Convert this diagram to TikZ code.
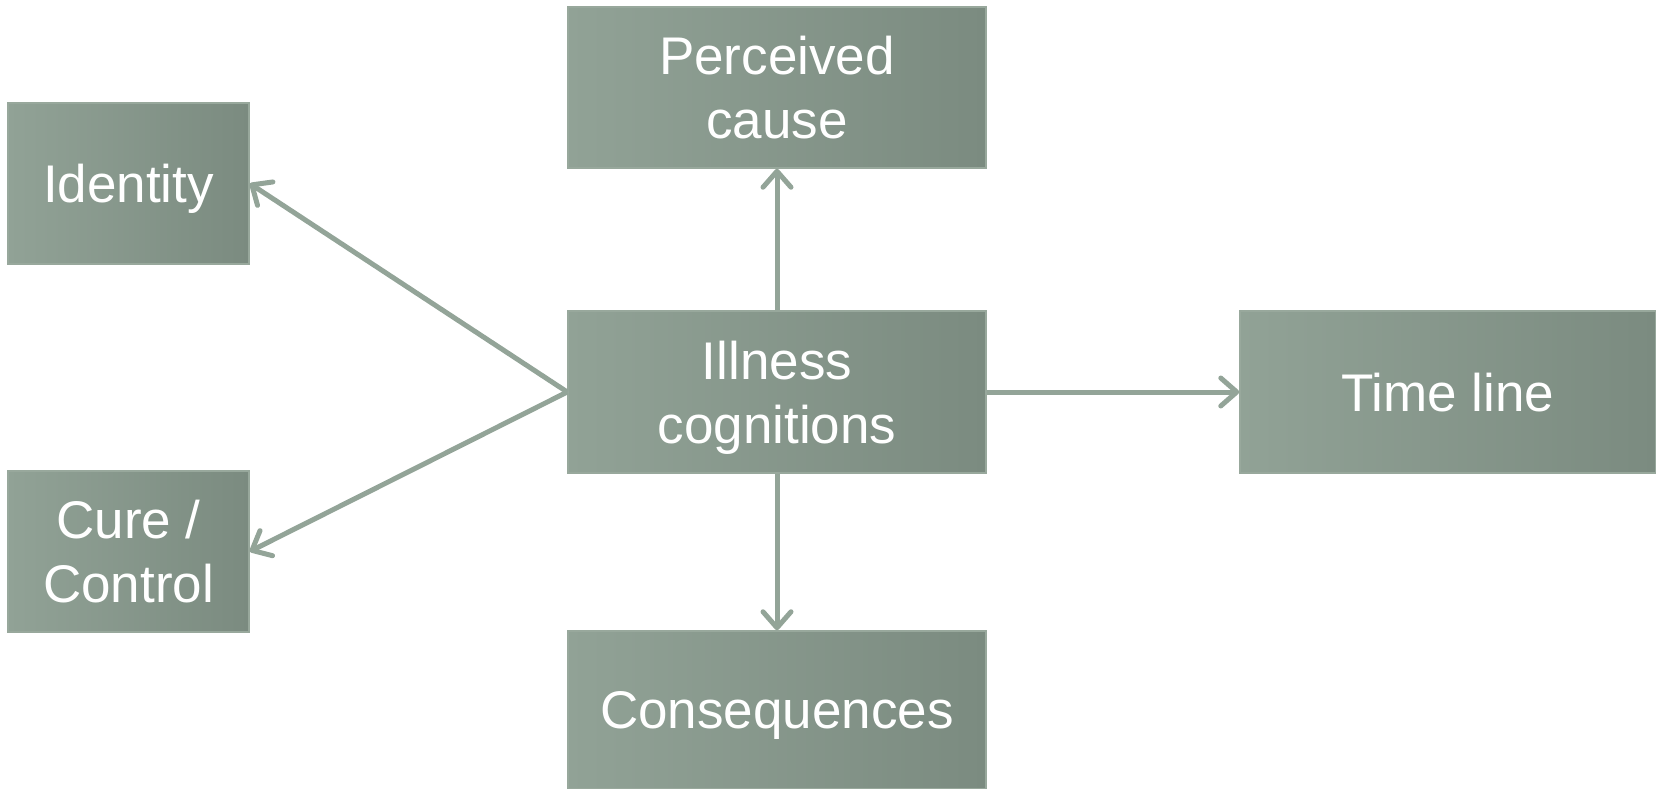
\documentclass[tikz,border=0pt]{standalone}
\usepackage{fontspec}
\setmainfont{Liberation Sans}
\usetikzlibrary{calc,arrows.meta}

\definecolor{boxlight}{HTML}{91A296}
\definecolor{boxdark}{HTML}{7B8B80}
\definecolor{boxedge}{HTML}{98A89C}
\definecolor{arrowgray}{HTML}{93A498}

\tikzset{
  box/.style={rectangle, left color=boxlight, right color=boxdark, draw=boxedge,
    line width=1.5pt, minimum height=161pt, text=white, align=center,
    font=\fontsize{53}{64}\selectfont, inner sep=0pt, text depth=-6pt},
  conn/.style={draw=arrowgray, line width=5pt,
    -{Straight Barb[length=16pt,width=28pt,line cap=round,line join=round]}}
}

\begin{document}
\begin{tikzpicture}[x=1pt,y=-1pt]
  \useasboundingbox (0,0) rectangle (1656,789);

  %% The six boxes of the model
  \foreach \name/\x/\y/\w/\h/\txt in {
    cause/777/87.5/418/161/{Perceived\\cause},
    ident/128.5/183.5/241/161/{Identity},
    ill/777/392/418/162/{Illness\\cognitions},
    time/1448/392/416/162/{Time line},
    cure/128.5/551.5/241/161/{Cure /\\Control},
    cons/777/710/418/158/{Consequences}}
  {
    \node[box, minimum width=\w pt, minimum height=\h pt] (\name) at (\x,\y) {\txt};
  }

  %% Arrows out of the centre box
  \foreach \a/\b in {ill.north/cause.south, ill.west/ident.east, ill.west/cure.east,
    ill.east/time.west, ill.south/cons.north}
  {
    \draw[conn] (\a) -- (\b);
  }
\end{tikzpicture}
\end{document}
